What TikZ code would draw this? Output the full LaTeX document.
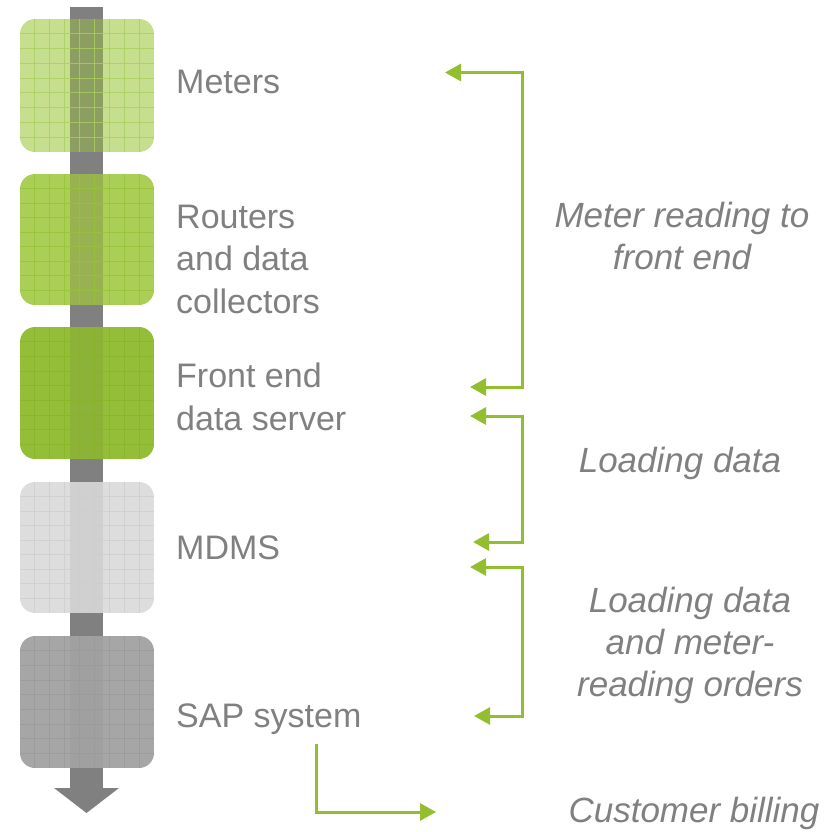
\documentclass[tikz,border=0pt]{standalone}
\usepackage{fontspec}
\setmainfont{Liberation Sans}
\usetikzlibrary{arrows.meta}
\definecolor{txt}{RGB}{128,128,128}
\definecolor{grn}{RGB}{146,190,48}
\definecolor{barc}{RGB}{128,128,128}
\definecolor{boxa}{RGB}{198,223,143}
\definecolor{boxao}{RGB}{140,159,96}
\definecolor{boxag}{RGB}{170,206,96}
\definecolor{boxb}{RGB}{170,206,86}
\definecolor{boxbo}{RGB}{152,178,79}
\definecolor{boxbg}{RGB}{152,194,58}
\definecolor{boxc}{RGB}{149,190,56}
\definecolor{boxco}{RGB}{141,178,56}
\definecolor{boxcg}{RGB}{136,180,40}
\definecolor{boxd}{RGB}{221,221,221}
\definecolor{boxdo}{RGB}{208,208,208}
\definecolor{boxdg}{RGB}{206,206,206}
\definecolor{boxe}{RGB}{166,166,166}
\definecolor{boxeo}{RGB}{160,160,160}
\definecolor{boxeg}{RGB}{154,154,154}
\newcommand\mybox[5]{%
  \begin{scope}
    \clip[rounded corners=15pt] (20,#1) rectangle (154,#2);
    \fill[#3] (20,#1) rectangle (154,#2);
    \fill[#4] (70,#1) rectangle (103,#2);
    \foreach \k in {1,...,8} {
      \draw[#5, line width=0.9pt, opacity=0.8] ({20+\k*134/9},#1) -- ({20+\k*134/9},#2);
      \draw[#5, line width=0.9pt, opacity=0.8] (20,{#1+\k*(#2-#1)/9}) -- (154,{#1+\k*(#2-#1)/9});
    }
  \end{scope}}
\begin{document}
\begin{tikzpicture}[x=1pt,y=-1pt,
  lbl/.style={text=txt, font=\fontsize{34}{42.5}\selectfont, inner sep=0pt, anchor=base west, align=left},
  rlbl/.style={text=txt, font=\fontsize{35}{42}\selectfont\itshape, inner sep=0pt, anchor=base, align=center},
  conn/.style={draw=grn, line width=3pt, -{Triangle[length=16pt,width=17pt]}},
  bconn/.style={draw=grn, line width=3pt, {Triangle[length=16pt,width=17pt]}-{Triangle[length=16pt,width=17pt]}}
]
\useasboundingbox (0,0) rectangle (832,831);
% central arrow
\fill[barc] (70,7) rectangle (103,789);
\fill[barc] (54,788) -- (119,788) -- (86.5,813) -- cycle;
% boxes
\mybox{19}{152}{boxa}{boxao}{boxag}
\mybox{174}{305}{boxb}{boxbo}{boxbg}
\mybox{327}{459}{boxc}{boxco}{boxcg}
\mybox{482}{613}{boxd}{boxdo}{boxdg}
\mybox{636}{768}{boxe}{boxeo}{boxeg}
% left labels (base anchor = baseline of last line)
\node[lbl] (meters) at (176,93) {Meters};
\node[lbl] (routers) at (176,313) {Routers\\and data\\collectors};
\node[lbl] (frontend) at (176,430) {Front end\\data server};
\node[lbl] (mdms) at (176,559) {MDMS};
\node[lbl] (sap) at (176,727) {SAP system};
% right labels
\node[rlbl] (r1) at (682,269) {Meter reading to\\front end};
\node[rlbl] (r2) at (680,472) {Loading data};
\node[rlbl] (r3) at (690,696) {Loading data\\and meter-\\reading orders};
\node[rlbl] (r4) at (694,822) {Customer billing};
% connector end points
\coordinate (a1) at (445,72.5);
\coordinate (a2) at (470,387);
\coordinate (b1) at (470,416);
\coordinate (b2) at (473,542);
\coordinate (c1) at (470,567);
\coordinate (c2) at (474,716);
\coordinate (d1) at (316,744);
\coordinate (d2) at (436,812);
\draw[bconn] (a1) -- (522,72.5) -- (522,387) -- (a2);
\draw[bconn] (b1) -- (522,416) -- (522,542) -- (b2);
\draw[bconn] (c1) -- (522,567) -- (522,716) -- (c2);
\draw[conn] (d1) |- (d2);
\end{tikzpicture}
\end{document}
